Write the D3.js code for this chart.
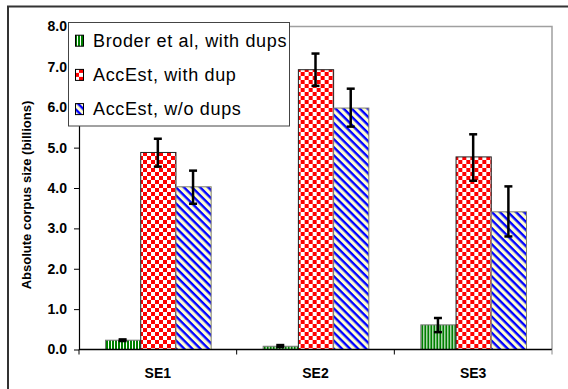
<!DOCTYPE html>
<html>
<head>
<meta charset="utf-8">
<script src="https://cdn.jsdelivr.net/npm/d3@7"></script>
<style>
  body { margin: 0; background: #fff; }
  svg { display: block; font-family: Arial, 'Liberation Sans', sans-serif; }
</style>
</head>
<body>
<svg width="568" height="389"></svg>
<script>
// data
const categories = ['SE1', 'SE2', 'SE3']
const seriesNames = ['Broder et al, with dups', 'AccEst, with dup', 'AccEst, w/o dups']
const broderVals = [0.23, 0.08, 0.61]
const broderLow = [0.21, 0.06, 0.43]
const broderHigh = [0.25, 0.11, 0.78]
const dupVals = [4.88, 6.93, 4.77]
const dupLow = [4.53, 6.53, 4.18]
const dupHigh = [5.22, 7.33, 5.33]
const noDupVals = [4.03, 5.98, 3.41]
const noDupLow = [3.61, 5.52, 2.80]
const noDupHigh = [4.43, 6.46, 4.04]
const yTicks = [0, 1, 2, 3, 4, 5, 6, 7, 8]

const svg = d3.select('svg')

const plotLeft = 79
const plotRight = 552
const plotTop = 26.5
const plotBottom = 349.5

// patterns
const defs = svg.append('defs')
const pg = defs.append('pattern').attr('id', 'pGreen')
  .attr('patternUnits', 'userSpaceOnUse').attr('width', 3).attr('height', 3)
pg.append('rect').attr('width', 3).attr('height', 3).attr('fill', '#fff')
pg.append('rect').attr('width', 2).attr('height', 3).attr('fill', '#008000')

const pr = defs.append('pattern').attr('id', 'pRed')
  .attr('patternUnits', 'userSpaceOnUse').attr('width', 8).attr('height', 8)
pr.append('rect').attr('width', 8).attr('height', 8).attr('fill', '#fff')
pr.append('rect').attr('width', 4).attr('height', 4).attr('fill', '#ff0000')
pr.append('rect').attr('x', 4).attr('y', 4).attr('width', 4).attr('height', 4).attr('fill', '#ff0000')

const pb = defs.append('pattern').attr('id', 'pBlue')
  .attr('patternUnits', 'userSpaceOnUse').attr('width', 5.7).attr('height', 5.7)
  .attr('patternTransform', 'rotate(45)')
pb.append('rect').attr('width', 5.7).attr('height', 5.7).attr('fill', '#ffffd0')
pb.append('rect').attr('width', 5.7).attr('height', 2.4).attr('fill', '#0000ff')

const fills = ['url(#pGreen)', 'url(#pRed)', 'url(#pBlue)']
const strokes = ['#777', '#222', '#808070']

// outer frame
svg.append('rect')
  .attr('x', 8).attr('y', 6.5).attr('width', 600).attr('height', 400)
  .attr('fill', 'none').attr('stroke', '#333').attr('stroke-width', 2)

// scales
const x0 = d3.scaleBand().domain(categories).range([plotLeft, plotRight])
const x1 = d3.scaleBand().domain(d3.range(3)).range([26, x0.bandwidth() - 26])
const y = d3.scaleLinear().domain([0, 8]).range([plotBottom, plotTop])

// plot area border (top, right)
svg.append('path')
  .attr('d', `M${plotLeft},${plotTop}H${plotRight}V${plotBottom}`)
  .attr('fill', 'none').attr('stroke', '#a0a0a0').attr('stroke-width', 1.5)

const rows = categories.map((c, i) => ({
  cat: c,
  bars: [
    { v: broderVals[i], lo: broderLow[i], hi: broderHigh[i] },
    { v: dupVals[i], lo: dupLow[i], hi: dupHigh[i] },
    { v: noDupVals[i], lo: noDupLow[i], hi: noDupHigh[i] },
  ],
}))

const groups = svg.append('g').selectAll('g').data(rows).join('g')
  .attr('transform', (d) => `translate(${x0(d.cat)},0)`)

groups.selectAll('rect').data((d) => d.bars).join('rect')
  .attr('x', (d, i) => x1(i) + 0.5)
  .attr('y', (d) => y(d.v))
  .attr('width', x1.bandwidth())
  .attr('height', (d) => y(0) - y(d.v))
  .attr('fill', (d, i) => fills[i])
  .attr('stroke', (d, i) => strokes[i])
  .attr('stroke-width', 1)

// error bars
const err = groups.selectAll('g.err').data((d) => d.bars).join('g')
  .attr('class', 'err')
  .attr('stroke', '#000').attr('stroke-width', 2.5)
err.append('line')
  .attr('x1', (d, i) => x1(i) + x1.bandwidth() / 2)
  .attr('x2', (d, i) => x1(i) + x1.bandwidth() / 2)
  .attr('y1', (d) => y(d.lo)).attr('y2', (d) => y(d.hi))
err.append('line')
  .attr('x1', (d, i) => x1(i) + x1.bandwidth() / 2 - 4)
  .attr('x2', (d, i) => x1(i) + x1.bandwidth() / 2 + 4)
  .attr('y1', (d) => y(d.hi)).attr('y2', (d) => y(d.hi))
err.append('line')
  .attr('x1', (d, i) => x1(i) + x1.bandwidth() / 2 - 4)
  .attr('x2', (d, i) => x1(i) + x1.bandwidth() / 2 + 4)
  .attr('y1', (d) => y(d.lo)).attr('y2', (d) => y(d.lo))

// y axis
const yAxis = svg.append('g')
  .attr('transform', `translate(${plotLeft},0)`)
  .call(d3.axisLeft(y).tickValues(yTicks).tickFormat(d3.format('.1f'))
    .tickSize(5).tickSizeOuter(0).tickPadding(7))
yAxis.select('.domain').attr('stroke', '#000').attr('stroke-width', 1.2)
yAxis.selectAll('.tick line').attr('stroke', '#000')
yAxis.selectAll('text')
  .attr('font-size', 14).attr('font-weight', 'bold').attr('fill', '#000')
  .attr('font-family', 'Arial, Liberation Sans, sans-serif')

// x axis with ticks at category boundaries
const xAxis = svg.append('g').attr('transform', `translate(0,${plotBottom})`)
xAxis.append('line')
  .attr('x1', plotLeft).attr('x2', plotRight).attr('stroke', '#000').attr('stroke-width', 1.5)
xAxis.selectAll('line.tk').data(categories.map((c) => x0(c)).concat([plotRight])).join('line')
  .attr('class', 'tk')
  .attr('x1', (d) => d).attr('x2', (d) => d)
  .attr('y1', 0).attr('y2', 5)
  .attr('stroke', (d, i) => (i === 3 ? '#888' : '#000'))
xAxis.selectAll('text').data(categories).join('text')
  .attr('x', (d) => x0(d) + x0.bandwidth() / 2)
  .attr('y', 28.5)
  .attr('text-anchor', 'middle')
  .attr('font-size', 14).attr('font-weight', 'bold')
  .text((d) => d)

// y title
svg.append('text')
  .attr('transform', `translate(31,195) rotate(-90)`)
  .attr('text-anchor', 'middle')
  .attr('font-size', 13).attr('font-weight', 'bold')
  .text('Absolute corpus size (billions)')

// legend
const legend = svg.append('g')
legend.append('rect')
  .attr('x', 68.5).attr('y', 22.5).attr('width', 221).attr('height', 103.5)
  .attr('fill', '#fff').attr('stroke', '#444').attr('stroke-width', 1)
const items = legend.selectAll('g.item').data(seriesNames).join('g')
  .attr('class', 'item')
  .attr('transform', (d, i) => `translate(75,${46.7 + i * 34.2})`)
items.append('rect')
  .attr('x', 0.5).attr('y', -11.5).attr('width', 8).attr('height', 11)
  .attr('fill', (d, i) => fills[i]).attr('stroke', '#000')
items.append('text')
  .attr('x', 18).attr('y', 0)
  .attr('font-size', 18)
  .attr('letter-spacing', 0.65)
  .text((d) => d)
</script>
</body>
</html>
